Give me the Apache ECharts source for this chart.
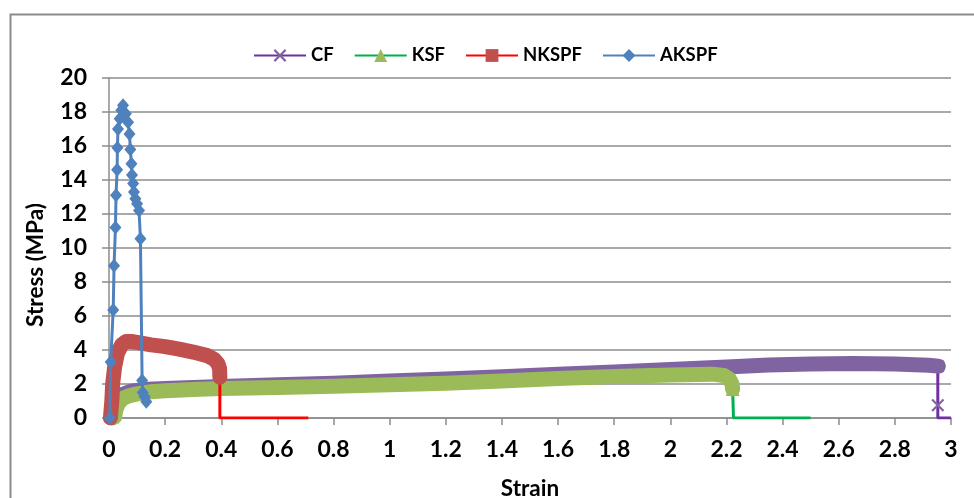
<!DOCTYPE html>
<html>
<head>
<meta charset="utf-8">
<script src="https://cdn.jsdelivr.net/npm/echarts@6/dist/echarts.min.js"></script>
<style>
html,body{margin:0;padding:0;background:#fff;}
#chart{width:974px;height:498px;}
</style>
</head>
<body>
<div id="chart"></div>
<script>
// ---- data ----
const seriesNames = ['CF', 'KSF', 'NKSPF', 'AKSPF'];

// CF (dense marker band, then drop)
const cfX = [0.01, 0.02, 0.03, 0.05, 0.08, 0.12, 0.2, 0.4, 0.6, 0.8, 1.0, 1.2, 1.4, 1.6, 1.8, 2.0, 2.2, 2.35, 2.5, 2.65, 2.8, 2.92, 2.955];
const cfY = [0, 0.6, 1.1, 1.4, 1.58, 1.67, 1.74, 1.85, 1.95, 2.05, 2.17, 2.3, 2.43, 2.57, 2.7, 2.85, 3.0, 3.12, 3.17, 3.2, 3.17, 3.1, 3.05];
const cfTailX = [2.953, 2.953, 2.953, 3.0];
const cfTailY = [3.05, 0.75, 0, 0];
const cfTailMarked = 2;

// KSF
const ksfX = [0.02, 0.025, 0.035, 0.05, 0.07, 0.1, 0.15, 0.2, 0.3, 0.4, 0.6, 0.8, 1.0, 1.2, 1.4, 1.6, 1.8, 2.0, 2.15, 2.19, 2.21, 2.22, 2.222];
const ksfY = [0.05, 0.5, 0.9, 1.15, 1.3, 1.42, 1.55, 1.6, 1.67, 1.73, 1.8, 1.87, 1.95, 2.05, 2.17, 2.33, 2.44, 2.53, 2.58, 2.5, 2.3, 2.0, 1.7];
const ksfTailX = [2.222, 2.225, 2.5];
const ksfTailY = [1.7, 0, 0];
const ksfTailMarked = 1;

// NKSPF
const nkX = [0.005, 0.01, 0.013, 0.02, 0.03, 0.045, 0.06, 0.08, 0.1, 0.15, 0.2, 0.25, 0.3, 0.35, 0.375, 0.388, 0.394, 0.395];
const nkY = [0, 1.0, 2.0, 3.0, 3.8, 4.3, 4.5, 4.5, 4.45, 4.3, 4.2, 4.05, 3.88, 3.67, 3.45, 3.2, 2.9, 2.4];
const nkTailX = [0.395, 0.395, 0.71];
const nkTailY = [2.4, 0, 0];
const nkTailMarked = 0;

// AKSPF
const akX = [0.003, 0.006, 0.015, 0.018, 0.023, 0.025, 0.029, 0.03, 0.032, 0.038, 0.044, 0.05, 0.06, 0.068, 0.073, 0.076, 0.08, 0.082, 0.086, 0.089, 0.094, 0.1, 0.107, 0.112, 0.118, 0.12, 0.127, 0.133];
const akY = [0, 3.3, 6.35, 8.96, 11.2, 13.1, 14.6, 15.9, 17.0, 17.6, 18.1, 18.4, 17.9, 17.4, 16.7, 15.8, 14.95, 14.3, 13.8, 13.3, 12.9, 12.6, 12.2, 10.55, 2.2, 1.5, 1.25, 0.95];

const xAxisTitle = 'Strain';
const yAxisTitle = 'Stress (MPa)';

// ---- build ----
const pair = (xs, ys) => xs.map((x, i) => [x, ys[i]]);
const FONT = 'Lato, "Open Sans", sans-serif';
const crossPath = 'path://M0,1.2L1.2,0L5,3.8L8.8,0L10,1.2L6.2,5L10,8.8L8.8,10L5,6.2L1.2,10L0,8.8L3.8,5Z';

function band(name, data, color, width) {
  return {
    type: 'line', name: name + '_band', data: data, showSymbol: false, symbol: 'none',
    lineStyle: { color: color, width: width, cap: 'round', join: 'round' },
    silent: true, z: 2
  };
}
function tail(name, data, lineColor, markColor, symbol, size, marked) {
  return {
    type: 'line', name: name, data: data, symbol: symbol,
    symbolSize: (v, p) => (p.dataIndex < marked ? size : 0),
    showAllSymbol: true,
    lineStyle: { color: lineColor, width: 3 },
    itemStyle: { color: markColor },
    z: 2
  };
}

const series = [
  tail('CF', pair(cfTailX, cfTailY), '#7030A0', '#8064A2', crossPath, 13, cfTailMarked),
  band('CF', pair(cfX, cfY), '#8064A2', 15),
  tail('KSF', pair(ksfTailX, ksfTailY), '#00B050', '#9BBB59', 'triangle', 14, ksfTailMarked),
  band('KSF', pair(ksfX, ksfY), '#9BBB59', 15),
  tail('NKSPF', pair(nkTailX, nkTailY), '#FF0000', '#C0504D', 'rect', 13, nkTailMarked),
  band('NKSPF', pair(nkX, nkY), '#C0504D', 15),
  {
    type: 'line', name: 'AKSPF', data: pair(akX, akY), symbol: 'diamond', symbolSize: [12, 14],
    showAllSymbol: true,
    lineStyle: { color: '#4F81BD', width: 3 },
    itemStyle: { color: '#4F81BD' }, z: 3
  }
];

const chart = echarts.init(document.getElementById('chart'));
chart.setOption({
  animation: false,
  backgroundColor: '#fff',
  graphic: [{
    type: 'rect', left: 8, top: 12, shape: { width: 1000, height: 600 },
    style: { fill: 'none', stroke: '#8C8C8C', lineWidth: 2 }, silent: true
  }, {
    type: 'text', x: 36, y: 265, rotation: Math.PI / 2,
    style: {
      text: yAxisTitle, fontFamily: FONT, fontWeight: 'bold', fontSize: 22.5, fill: '#000',
      textAlign: 'center', textVerticalAlign: 'middle'
    }, silent: true
  }],
  legend: {
    data: seriesNames,
    left: 248, top: 41,
    itemWidth: 52, itemHeight: 16, itemGap: 20,
    textStyle: { fontFamily: FONT, fontWeight: 'bold', fontSize: 18.5, color: '#000' }
  },
  grid: { left: 109, right: 23, top: 78, bottom: 80, outerBoundsMode: 'none', containLabel: false },
  xAxis: {
    type: 'value', min: 0, max: 3, interval: 0.2,
    name: xAxisTitle, nameLocation: 'middle', nameGap: 59,
    nameTextStyle: { fontFamily: FONT, fontWeight: 'bold', fontSize: 22.5, color: '#000' },
    axisLine: { show: true, lineStyle: { color: '#8C8C8C', width: 1.5 } },
    axisTick: { show: true, length: 7, lineStyle: { color: '#8C8C8C', width: 1.5 } },
    splitLine: { show: false },
    axisLabel: {
      margin: 20, color: '#000', fontFamily: FONT, fontWeight: 'bold', fontSize: 23,
      formatter: v => String(+v.toFixed(1))
    }
  },
  yAxis: {
    type: 'value', min: 0, max: 20, interval: 2,
    axisLine: { show: true, lineStyle: { color: '#8C8C8C', width: 1.5 } },
    axisTick: { show: true, length: 7, lineStyle: { color: '#8C8C8C', width: 1.5 } },
    splitLine: { show: true, lineStyle: { color: '#8C8C8C', width: 1.5 } },
    axisLabel: { margin: 22, color: '#000', fontFamily: FONT, fontWeight: 'bold', fontSize: 23 }
  },
  series: series
});
</script>
</body>
</html>
